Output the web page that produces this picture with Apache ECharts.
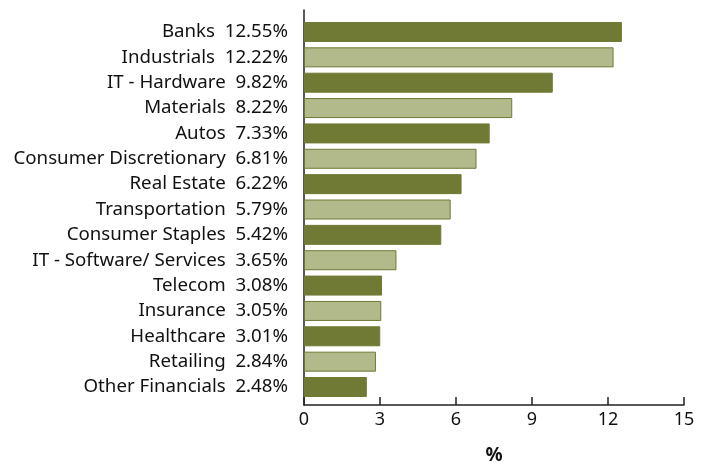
<!DOCTYPE html>
<html><head><meta charset="utf-8">
<script src="https://cdn.jsdelivr.net/npm/echarts@6/dist/echarts.min.js"></script>
<style>html,body{margin:0;padding:0;background:#fff}#c{width:710px;height:470px}</style>
</head><body><div id="c"></div>
<script>
const categories = ["Banks","Industrials","IT - Hardware","Materials","Autos","Consumer Discretionary","Real Estate","Transportation","Consumer Staples","IT - Software/ Services","Telecom","Insurance","Healthcare","Retailing","Other Financials"];
const values = [12.55,12.22,9.82,8.22,7.33,6.81,6.22,5.79,5.42,3.65,3.08,3.05,3.01,2.84,2.48];
const xTicks = [0,3,6,9,12,15];
const dark = '#717a35', light = '#b2b98a';
const font = 'Noto Sans';
const chart = echarts.init(document.getElementById('c'));
chart.setOption({
  animation:false,
  grid:[
    {left:304,right:26,top:10,bottom:56},
    {left:304,right:26,top:19.3,height:380.4}
  ],
  xAxis:[
    {gridIndex:0,type:'value',min:xTicks[0],max:xTicks[xTicks.length-1],interval:3,
     axisLine:{show:true,lineStyle:{color:'#222',width:1.5}},
     axisTick:{show:true,inside:true,length:8,lineStyle:{color:'#222',width:1.5}},
     splitLine:{show:false},
     axisLabel:{color:'#111',fontFamily:font,fontSize:18,margin:6},
     name:'%',nameLocation:'middle',nameGap:41,
     nameTextStyle:{color:'#111',fontFamily:font,fontSize:19,fontWeight:'bold'}},
    {gridIndex:1,type:'value',min:0,max:15,show:false}
  ],
  yAxis:[
    {gridIndex:0,type:'value',min:0,max:1,
     axisLine:{show:true,lineStyle:{color:'#222',width:1.5}},
     axisTick:{show:false},axisLabel:{show:false},splitLine:{show:false}},
    {gridIndex:1,type:'category',inverse:true,data:categories,
     axisLine:{show:false},axisTick:{show:false},
     axisLabel:{color:'#111',fontFamily:font,fontSize:18.7,margin:16,
       formatter:(v,i)=>v+'  '+values[i].toFixed(2)+'%'}}
  ],
  series:[{
    type:'bar',xAxisIndex:1,yAxisIndex:1,barWidth:20,
    data:values.map((v,i)=>({value:v,itemStyle:{color:i%2===0?dark:light,borderColor:dark,borderWidth:1}}))
  }]
});
</script></body></html>
